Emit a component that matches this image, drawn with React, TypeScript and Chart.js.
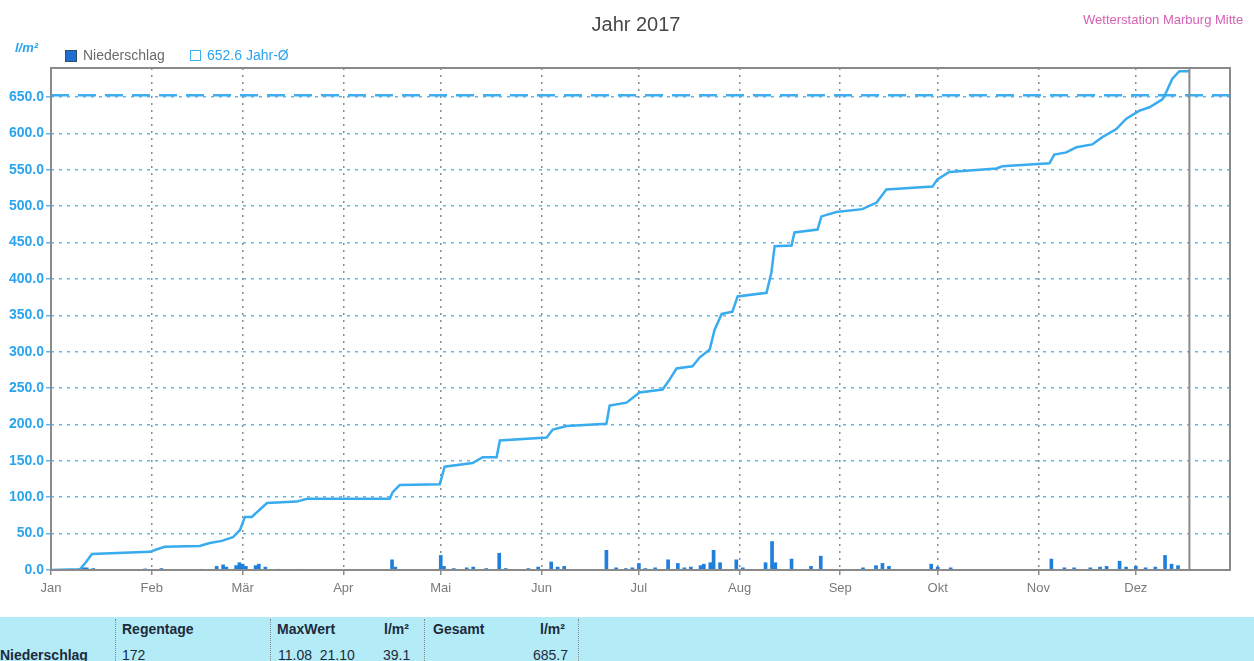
import React, { useEffect, useRef } from 'react';
import { Chart, registerables } from 'chart.js';

Chart.register(...registerables);

// ---- data ----
const monthStarts = [0, 31, 59, 90, 120, 151, 181, 212, 243, 273, 304, 334];
const monthLabels = ['Jan', 'Feb', 'Mär', 'Apr', 'Mai', 'Jun', 'Jul', 'Aug', 'Sep', 'Okt', 'Nov', 'Dez'];
const yTicks = [0, 50, 100, 150, 200, 250, 300, 350, 400, 450, 500, 550, 600, 650];

// cumulative precipitation (day of year, l/m²)
const cumDays = [
  0, 8.9, 10.8, 12.6, 30.5, 32, 35, 45.8, 48.9, 52.6, 56, 58.2, 59.7, 61.8, 66.5, 75.7, 78.8,
  104.3, 105.2, 107.4, 119.7, 121.2, 129.8, 132.9, 137.2, 138.2, 152.6, 154.5, 158.8, 171, 172,
  177.2, 181.2, 188.3, 190.5, 192.6, 197.5, 199.7, 202.8, 204.3, 206.5, 209.8, 211.4, 220.3,
  221.8, 222.8, 228, 228.9, 236, 237.2, 241.8, 249.8, 254.2, 257.2, 271.4, 272.9, 276.6, 282.8,
  291.1, 292.9, 307.4, 308.9, 312.6, 315.7, 320.6, 323.7, 328, 331, 335, 338.2, 342.2, 343.4,
  345.2, 347.4, 350.5,
];
const cumValues = [
  0, 1, 11, 22, 25, 27.5, 32, 33, 37, 40, 45, 55, 73, 73, 92, 94, 98,
  98, 107, 117, 118, 142, 147, 155, 155, 178, 182, 193, 198, 201, 226,
  230, 244, 248, 262, 277, 280, 292, 303, 330, 352, 355, 376, 381,
  409, 445, 446, 464, 468, 486, 492, 496, 505, 523, 527, 537, 547, 549,
  552, 555, 559, 571, 574, 581, 585, 595, 606, 620, 631, 636, 647, 657,
  675, 685.7, 685.7,
];

// daily precipitation bars (day of year, l/m²)
const rainDays = [
  9, 10, 11, 13, 29, 34, 46, 51, 53, 54, 57, 58, 59, 60, 63, 64, 66, 70, 77,
  105, 106, 120, 121, 124, 128, 130, 134, 138, 140, 147, 150, 154, 156, 158,
  171, 174, 177, 179, 181, 183, 186, 190, 193, 195, 197, 200, 201, 203, 204, 206,
  211, 213, 220, 222, 223, 228, 234, 237, 250, 254, 256, 258, 271, 273, 277,
  308, 312, 315, 320, 323, 325, 329, 331, 334, 337, 340, 343, 345, 347,
];
const rainValues = [
  2, 3, 3, 2, 1.5, 2, 1, 5, 7, 4, 6, 10, 8, 5, 6, 8, 4, 1, 1,
  14, 4, 20, 5, 2, 3, 4, 2, 23, 2, 2, 4, 11, 4, 5,
  27, 3, 2, 3, 9, 2, 3, 14, 9, 3, 4, 6, 8, 10, 27, 10,
  14, 3, 10, 39.1, 10, 15, 5, 19, 3, 6, 9, 5, 8, 4, 3,
  15, 3, 3, 3, 4, 5, 12, 4, 5, 3, 4, 20, 8, 6,
];

const yearAverage = 652.6;
const lastDataDay = 350.5;
const xMax = 363;
const yMax = 690;

const tableHeader = ['Regentage', 'MaxWert', 'l/m²', 'Gesamt', 'l/m²'];
const tableRow = ['Niederschlag', '172', '11.08  21.10', '39.1', '685.7'];

export default function App() {
  const canvasRef = useRef<HTMLCanvasElement | null>(null);

  useEffect(() => {
    const canvas = canvasRef.current;
    if (!canvas) return;

    const framePlugin = {
      id: 'frame',
      afterDatasetsDraw(chart: any) {
        const { ctx, chartArea, scales } = chart;
        ctx.save();
        ctx.strokeStyle = '#8a8a8a';
        ctx.lineWidth = 2;
        ctx.setLineDash([]);
        ctx.strokeRect(chartArea.left, chartArea.top, chartArea.right - chartArea.left, chartArea.bottom - chartArea.top);
        const x = scales.x.getPixelForValue(lastDataDay);
        ctx.beginPath();
        ctx.moveTo(x, chartArea.top);
        ctx.lineTo(x, chartArea.bottom);
        ctx.stroke();
        ctx.restore();
      },
    };

    const chart = new Chart(canvas, {
      data: {
        datasets: [
          {
            type: 'line',
            label: '652.6 Jahr-Ø',
            data: [
              { x: 0, y: yearAverage },
              { x: xMax, y: yearAverage },
            ],
            borderColor: '#3eaef0',
            borderDash: [18, 9],
            borderWidth: 2.5,
            pointRadius: 0,
            order: 1,
          },
          {
            type: 'line',
            label: 'Summe',
            data: cumDays.map((d, i) => ({ x: d, y: cumValues[i] })),
            borderColor: '#38acef',
            borderWidth: 2.5,
            pointRadius: 0,
            tension: 0,
            order: 0,
          },
          {
            type: 'bar',
            label: 'Niederschlag',
            data: rainDays.map((d, i) => ({ x: d, y: rainValues[i] })),
            backgroundColor: '#1f7fdc',
            barThickness: 3,
            grouped: false,
            order: 2,
          },
        ],
      } as any,
      options: {
        animation: false,
        responsive: false,
        maintainAspectRatio: false,
        layout: { padding: { left: 0, right: 24, top: 68, bottom: 0 } },
        plugins: {
          legend: { display: false },
          title: { display: false },
          tooltip: { enabled: false },
        },
        scales: {
          x: {
            type: 'linear',
            min: 0,
            max: xMax,
            offset: false,
            afterBuildTicks: (scale: any) => {
              scale.ticks = monthStarts.map((v) => ({ value: v }));
            },
            afterFit: (scale: any) => {
              scale.height = 42;
            },
            ticks: {
              autoSkip: false,
              maxRotation: 0,
              padding: 6,
              color: '#7a7a7a',
              font: { family: 'Liberation Sans', size: 13 },
              callback: (v: any) => {
                const i = monthStarts.indexOf(Number(v));
                return i >= 0 ? monthLabels[i] : '';
              },
            },
            grid: {
              offset: false,
              color: '#8c8c8c',
              lineWidth: 1.5,
              tickLength: 5,
              drawTicks: true,
            },
            border: { display: false, dash: [2, 5] },
          },
          y: {
            type: 'linear',
            min: 0,
            max: yMax,
            afterBuildTicks: (scale: any) => {
              scale.ticks = yTicks.map((v) => ({ value: v }));
            },
            afterFit: (scale: any) => {
              scale.width = 51;
            },
            ticks: {
              padding: 2,
              color: '#2ba4ee',
              font: { family: 'Liberation Sans', size: 14, weight: 'bold' },
              callback: (v: any) => Number(v).toFixed(1),
            },
            grid: {
              color: '#5fb6ea',
              lineWidth: 1.5,
              tickLength: 5,
              drawTicks: true,
            },
            border: { display: false, dash: [3, 5] },
          },
        },
      } as any,
      plugins: [framePlugin],
    });

    return () => chart.destroy();
  }, []);

  const abs = (left: number, top: number, extra: React.CSSProperties = {}): React.CSSProperties => ({
    position: 'absolute',
    left,
    top,
    whiteSpace: 'pre',
    lineHeight: 1,
    ...extra,
  });

  const tableFont: React.CSSProperties = {
    fontFamily: 'Liberation Sans, Arial, sans-serif',
    fontWeight: 'bold',
    fontSize: 14,
    color: '#1d2a3c',
  };

  return (
    <div
      style={{
        position: 'fixed',
        left: 0,
        top: 0,
        width: 1254,
        height: 661,
        background: '#ffffff',
        overflow: 'hidden',
        fontFamily: 'Liberation Sans, Arial, sans-serif',
      }}
    >
      <canvas ref={canvasRef} width={1254} height={612} style={{ position: 'absolute', left: 0, top: 0 }} />

      <div style={abs(0, 14, { width: 1272, textAlign: 'center', fontSize: 20, color: '#484848' })}>Jahr 2017</div>
      <div style={abs(1083, 13, { fontSize: 13, color: '#d461b3' })}>Wetterstation Marburg Mitte</div>

      <div style={abs(15, 41, { fontSize: 13, fontWeight: 'bold', fontStyle: 'italic', color: '#2ba4ee' })}>l/m²</div>

      <div
        style={abs(65, 50, {
          width: 10,
          height: 10,
          background: '#1f6fd0',
          border: '1px solid #3a4a66',
        })}
      />
      <div style={abs(83, 48, { fontSize: 14, color: '#6a6a6a' })}>Niederschlag</div>
      <div
        style={abs(190, 50, {
          width: 9,
          height: 9,
          border: '1.5px solid #3eaef0',
        })}
      />
      <div style={abs(207, 48, { fontSize: 14, color: '#2ba4ee' })}>652.6 Jahr-Ø</div>

      <div style={abs(0, 617, { width: 1254, height: 44, background: '#b3ecf6' })} />
      {[115, 270, 424, 578].map((x) => (
        <div key={x} style={abs(x, 619, { height: 42, borderLeft: '1.5px dotted #7c8a90' })} />
      ))}
      <div style={abs(122, 622, tableFont)}>{tableHeader[0]}</div>
      <div style={abs(277, 622, tableFont)}>{tableHeader[1]}</div>
      <div style={abs(384, 622, tableFont)}>{tableHeader[2]}</div>
      <div style={abs(433, 622, tableFont)}>{tableHeader[3]}</div>
      <div style={abs(540, 622, tableFont)}>{tableHeader[4]}</div>

      <div style={abs(0, 648, tableFont)}>{tableRow[0]}</div>
      <div style={abs(122, 648, { ...tableFont, fontWeight: 'normal' })}>{tableRow[1]}</div>
      <div style={abs(278, 648, { ...tableFont, fontWeight: 'normal' })}>{tableRow[2]}</div>
      <div style={abs(383, 648, { ...tableFont, fontWeight: 'normal' })}>{tableRow[3]}</div>
      <div style={abs(526, 648, { ...tableFont, fontWeight: 'normal', width: 42, textAlign: 'right' })}>{tableRow[4]}</div>
    </div>
  );
}
